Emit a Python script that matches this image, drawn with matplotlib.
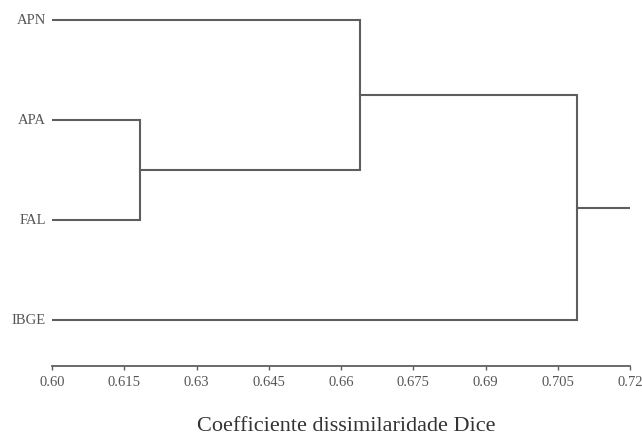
import matplotlib
matplotlib.use("Agg")
import matplotlib.pyplot as plt

# leaves, top to bottom
labels = ["APN", "APA", "FAL", "IBGE"]
# merges: (left child, right child, height); ids >= 4 are earlier merges
merge_a = [1, 0, 5]
merge_b = [2, 4, 3]
merge_h = [0.6183, 0.6640, 0.7091]
root_end = 0.7203
xticks = [0.60, 0.615, 0.63, 0.645, 0.66, 0.675, 0.69, 0.705, 0.72]
xtick_labels = ["0.60", "0.615", "0.63", "0.645", "0.66", "0.675", "0.69", "0.705", "0.72"]

plt.rcParams['font.family'] = ['Liberation Serif', 'DejaVu Serif']
line_col = "#5e5e5e"
text_col = "#555555"

fig = plt.figure(figsize=(6.42, 4.36), dpi=100)
ax = fig.add_axes([52 / 642, (436 - 366) / 436, 578 / 642, 356 / 436])

x0 = xticks[0]
pos = {i: (x0, float(i)) for i in range(len(labels))}
for k, (a, b, h) in enumerate(zip(merge_a, merge_b, merge_h)):
    xa, ya = pos[a]
    xb, yb = pos[b]
    ax.plot([xa, h, h, xb], [ya, ya, yb, yb], color=line_col, lw=1.5,
            solid_joinstyle="miter")
    pos[len(labels) + k] = (h, (ya + yb) / 2)
xr, yr = pos[len(labels) + len(merge_h) - 1]
ax.plot([xr, root_end], [yr, yr], color=line_col, lw=1.5)

for i, lab in enumerate(labels):
    ax.text(x0 - 0.0013, i, lab, ha="right", va="center", fontsize=10.5,
            color=text_col)

ax.set_xlim(0.60, 0.72)
ax.set_ylim(3.46, -0.1)
for s in ["top", "right", "left"]:
    ax.spines[s].set_visible(False)
ax.spines["bottom"].set_color(line_col)
ax.spines["bottom"].set_linewidth(1.3)
ax.set_yticks([])
ax.set_xticks(xticks)
ax.set_xticklabels(xtick_labels, fontsize=10.5, color=text_col)
ax.tick_params(axis="x", direction="out", length=3, width=1, color=line_col, pad=4)
for lbl in ax.get_xticklabels():
    lbl.set_clip_on(False)

fig.text(346 / 642, (436 - 431) / 436, "Coefficiente dissimilaridade Dice",
         ha="center", va="baseline", fontsize=16, color="#333333")

fig.savefig("out.png", dpi=100)
